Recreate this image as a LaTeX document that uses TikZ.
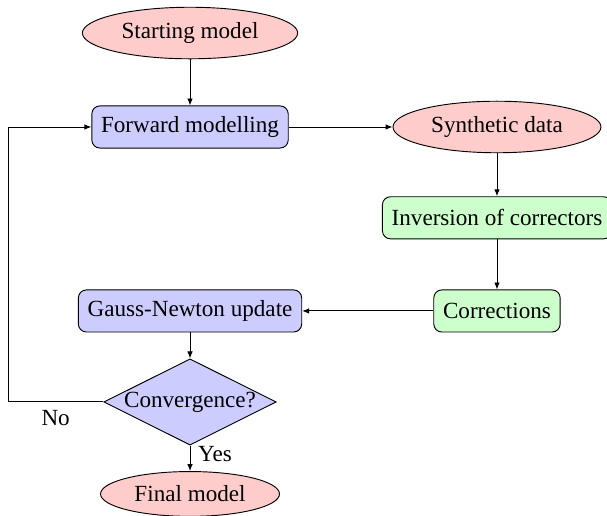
\documentclass[tikz,border=0pt]{standalone}
\usepackage{fontspec}
\setmainfont{Liberation Serif}
\usetikzlibrary{
  arrows.meta,
  positioning,
  shapes.geometric
}
\colorlet{termfill}{red!20}
\colorlet{procfill}{blue!20}
\colorlet{corrfill}{green!20}
\tikzset{
  >={Latex[length=3pt,width=2.4pt]},
  every node/.style={font=\normalsize},
  terminal/.style={ellipse, draw, fill=termfill},
  process/.style={
    rectangle,
    draw,
    fill=procfill,
    rounded corners=3.5pt,
    minimum height=0.64cm,
    inner xsep=4pt
  },
  corrbox/.style={process, fill=corrfill},
  decision/.style={diamond, aspect=2, draw, fill=procfill, inner sep=0pt},
  arrow/.style={->},
  annot/.style={font=\normalsize}
}

\begin{document}
\begin{tikzpicture}
  \useasboundingbox (0,0) rectangle (9.225,-7.842);

  % Main loop
  \node[terminal] (start) at (2.888,-0.502) {Starting model};
  \node[process] (fwd) at (2.888,-1.93) {Forward modelling};
  \node[terminal] (synth) at (7.553,-1.93) {Synthetic data};
  \node[corrbox] (inv) at (7.553,-3.31) {Inversion of correctors};
  \node[corrbox] (corr) at (7.553,-4.726) {Corrections};
  \node[process] (gn) at (2.888,-4.726) {Gauss-Newton update};
  \node[decision] (conv) at (2.888,-6.109) {Convergence?};
  \node[terminal] (final) at (2.888,-7.507) {Final model};
  \coordinate (back) at (0.122,-6.109);

  % Connectors
  \draw[arrow] (start) -- (fwd);
  \draw[arrow] (fwd) -- (synth);
  \draw[arrow] (synth) -- (inv);
  \draw[arrow] (inv) -- (corr);
  \draw[arrow] (corr) -- (gn);
  \draw[arrow] (gn) -- (conv);
  \draw[arrow] (conv) -- node[annot, right, pos=0.35] {Yes} (final);
  \draw[arrow] (conv.west) -- node[annot, below] {No} (back) |- (fwd.west);
\end{tikzpicture}
\end{document}
